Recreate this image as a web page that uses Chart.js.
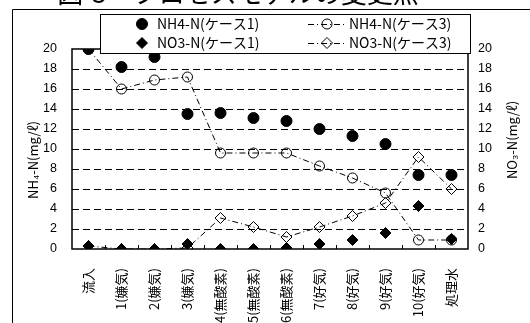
<!DOCTYPE html>
<html>
<head>
<meta charset="utf-8">
<script src="https://cdn.jsdelivr.net/npm/chart.js"></script>
<style>
  html, body { margin: 0; padding: 0; background: #fff; }
  #wrap { position: relative; width: 530px; height: 323px; overflow: hidden; }
</style>
</head>
<body>
<div id="wrap"><canvas id="c"></canvas></div>
<script>
// 図-5 プロセスモデルの変更点
const stages = ['流入', '1(嫌気)', '2(嫌気)', '3(嫌気)', '4(無酸素)', '5(無酸素)', '6(無酸素)',
                '7(好気)', '8(好気)', '9(好気)', '10(好気)', '処理水'];
const nh4Case1 = [20, 18.2, 19.2, 13.5, 13.6, 13.1, 12.8, 12.0, 11.3, 10.5, 7.4, 7.4];
const nh4Case3 = [20, 16.0, 16.9, 17.2, 9.6, 9.6, 9.6, 8.3, 7.1, 5.6, 0.9, 0.9];
const no3Case1 = [0.3, 0, 0, 0.5, 0, 0, 0.1, 0.5, 0.9, 1.6, 4.3, 1.0];
const no3Case3 = [0.3, 0, 0, 0.1, 3.1, 2.2, 1.2, 2.2, 3.3, 4.6, 9.2, 6.0];
const yTicks = [0, 2, 4, 6, 8, 10, 12, 14, 16, 18, 20];

const JP = '"Noto Sans CJK JP", sans-serif';
const NUM = '"Liberation Sans", Arial, sans-serif';
const DASHDOT = [6, 3, 1, 3];

// 枠・凡例・軸タイトルは自前で描く
const decor = {
  id: 'decor',
  beforeDraw(chart) {
    const ctx = chart.ctx;
    ctx.save();
    // タイトル(上が切れている)
    ctx.fillStyle = '#000';
    ctx.font = '26px ' + JP;
    ctx.textAlign = 'center';
    ctx.textBaseline = 'alphabetic';
    ctx.fillText('図-5　プロセスモデルの変更点', 238, 3);
    // 外枠
    ctx.strokeStyle = '#000';
    ctx.lineWidth = 1;
    ctx.beginPath();
    ctx.moveTo(530, 9.5); ctx.lineTo(12.5, 9.5); ctx.lineTo(12.5, 323);
    ctx.stroke();
    ctx.restore();
  },
  beforeDatasetsDraw(chart) {
    const ctx = chart.ctx, a = chart.chartArea;
    ctx.save();
    ctx.strokeStyle = '#000';
    ctx.lineWidth = 1.5;
    ctx.strokeRect(a.left, a.top, a.right - a.left, a.bottom - a.top);
    // x 軸の内向き目盛
    ctx.lineWidth = 1;
    const step = (a.right - a.left) / stages.length;
    ctx.beginPath();
    for (let i = 1; i < stages.length; i++) {
      const px = Math.round(a.left + i * step) + 0.5;
      ctx.moveTo(px, a.bottom); ctx.lineTo(px, a.bottom - 4);
    }
    ctx.stroke();
    ctx.restore();
  },
  afterDraw(chart) {
    const ctx = chart.ctx;
    const axisTitle = (txt, x, y) => {
      ctx.save();
      ctx.fillStyle = '#000';
      ctx.font = '13px ' + JP;
      ctx.textAlign = 'center';
      ctx.textBaseline = 'middle';
      ctx.translate(x, y); ctx.rotate(-Math.PI / 2);
      ctx.fillText(txt, 0, 0);
      ctx.restore();
    };
    axisTitle('NH₄-N(mg/ℓ)', 33, 160);
    axisTitle('NO₃-N(mg/ℓ)', 512, 140);

    // 凡例
    ctx.save();
    ctx.fillStyle = '#fff';
    ctx.fillRect(100, 14, 370, 39);
    ctx.strokeStyle = '#000';
    ctx.lineWidth = 1;
    ctx.strokeRect(100.5, 14.5, 370, 39);
    const rows = [24, 43];
    const ds = chart.data.datasets;
    const items = [
      { d: ds[0], x: 142, y: rows[0], line: false },
      { d: ds[2], x: 142, y: rows[1], line: false },
      { d: ds[1], x: 327, y: rows[0], line: true },
      { d: ds[3], x: 327, y: rows[1], line: true }
    ];
    items.forEach(it => {
      if (it.line) {
        ctx.save();
        ctx.strokeStyle = '#000';
        ctx.lineWidth = 1;
        ctx.setLineDash(DASHDOT);
        ctx.beginPath();
        ctx.moveTo(308, it.y + 0.5); ctx.lineTo(346, it.y + 0.5);
        ctx.stroke();
        ctx.restore();
      }
      ctx.save();
      ctx.lineWidth = 1;
      ctx.strokeStyle = '#000';
      ctx.fillStyle = it.d.pointBackgroundColor;
      Chart.helpers.drawPoint(ctx, {
        pointStyle: it.d.pointStyle, radius: it.d.pointRadius, borderWidth: 1, rotation: 0
      }, it.x, it.y);
      ctx.restore();
      ctx.fillStyle = '#000';
      ctx.font = '14px ' + JP;
      ctx.textAlign = 'left';
      ctx.textBaseline = 'middle';
      ctx.fillText(it.d.label, it.line ? 349 : 157, it.y);
    });
    ctx.restore();
  }
};

new Chart(document.getElementById('c'), {
  type: 'line',
  data: {
    labels: stages,
    datasets: [
      { label: 'NH4-N(ケース1)', data: nh4Case1, yAxisID: 'y', order: 0,
        showLine: false, pointStyle: 'circle', pointRadius: 5.5,
        pointBackgroundColor: '#000', pointBorderColor: '#000', borderColor: '#000' },
      { label: 'NH4-N(ケース3)', data: nh4Case3, yAxisID: 'y', order: 1,
        borderColor: '#000', borderWidth: 1, borderDash: DASHDOT, tension: 0,
        pointStyle: 'circle', pointRadius: 5, pointBorderWidth: 1,
        pointBackgroundColor: 'rgba(0,0,0,0)', pointBorderColor: '#000' },
      { label: 'NO3-N(ケース1)', data: no3Case1, yAxisID: 'y2', order: 0,
        showLine: false, pointStyle: 'rectRot', pointRadius: 5.5,
        pointBackgroundColor: '#000', pointBorderColor: '#000', borderColor: '#000' },
      { label: 'NO3-N(ケース3)', data: no3Case3, yAxisID: 'y2', order: 1,
        borderColor: '#000', borderWidth: 1, borderDash: DASHDOT, tension: 0,
        pointStyle: 'rectRot', pointRadius: 5.5, pointBorderWidth: 1,
        pointBackgroundColor: 'rgba(0,0,0,0)', pointBorderColor: '#000' }
    ]
  },
  options: {
    responsive: true,
    maintainAspectRatio: false,
    animation: false,
    layout: { padding: { top: 49, left: 0, right: 0, bottom: 0 } },
    plugins: { legend: { display: false }, tooltip: { enabled: false } },
    scales: {
      x: {
        offset: true,
        grid: { display: false },
        border: { display: false },
        ticks: { color: '#000', font: { family: JP, size: 13 }, maxRotation: 90, minRotation: 90, padding: 11, autoSkip: false },
        afterFit(s) { s.height = 74; }
      },
      y: {
        position: 'left', min: 0, max: 20,
        afterBuildTicks(s) { s.ticks = yTicks.map(v => ({ value: v })); },
        grid: {
          drawTicks: false, lineWidth: 1,
          color: c => (c.tick.value === 0 || c.tick.value === 20) ? 'rgba(0,0,0,0)' : '#000'
        },
        border: { display: false, dash: [7, 4] },
        ticks: { color: '#000', font: { family: NUM, size: 12.5 }, padding: 15 },
        afterFit(s) { s.width = 72; }
      },
      y2: {
        position: 'right', min: 0, max: 20,
        afterBuildTicks(s) { s.ticks = yTicks.map(v => ({ value: v })); },
        grid: { drawOnChartArea: false, drawTicks: false },
        border: { display: false },
        ticks: { color: '#000', font: { family: NUM, size: 12.5 }, padding: 10 },
        afterFit(s) { s.width = 62; }
      }
    }
  },
  plugins: [decor]
});
</script>
</body>
</html>
